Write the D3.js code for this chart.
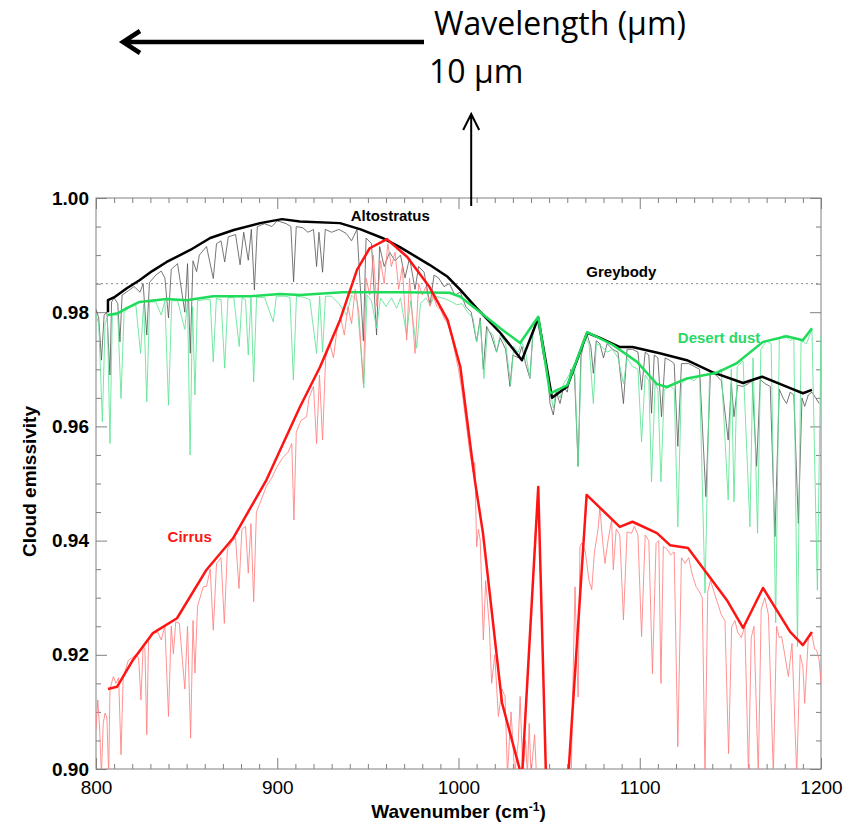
<!DOCTYPE html>
<html>
<head>
<meta charset="utf-8">
<script src="https://cdn.jsdelivr.net/npm/d3@7"></script>
<style>
  body { margin: 0; background: #fff; }
  svg { display: block; }
</style>
</head>
<body>
<div id="chart"></div>
<script>
// axis ticks
var xMajorTicks = [800, 900, 1000, 1100, 1200];
var yMajorTicks = [0.90, 0.92, 0.94, 0.96, 0.98, 1.00];
var greybodyValue = 0.985;
var arrowWavenumber = 1007;

// smoothed envelopes (thick lines)
var altostratus = [[806.6,0.9800],[806.6,0.9821],[810.5,0.9827],[817,0.9842],[824,0.9856],[831,0.9872],[839,0.9888],[852,0.9909],[863,0.9930],[876,0.9944],[890.5,0.9956],[902.6,0.9963],[912.5,0.9959],[934.6,0.9956],[946,0.9945],[958,0.9930],[967.7,0.9914],[984,0.9883],[994,0.9862],[1001,0.9839],[1010,0.9807],[1023,0.9764],[1035,0.9716],[1044,0.9790],[1051.6,0.9650],[1060,0.9670],[1071,0.9764],[1078,0.9755],[1089,0.9739],[1096,0.9739],[1111,0.9728],[1126,0.9716],[1140,0.9695],[1157,0.9676],[1167.5,0.9687],[1183,0.9667],[1190,0.9658],[1195,0.9664]];
var desertDust = [[806.6,0.9795],[812,0.9798],[817,0.9807],[824,0.9818],[839,0.9823],[850,0.9821],[864.6,0.9828],[885,0.9828],[901.5,0.9832],[912.5,0.9830],[936,0.9835],[967.7,0.9835],[995,0.9834],[1001,0.9827],[1012,0.9800],[1023,0.9772],[1034,0.9746],[1044,0.9792],[1050.5,0.9658],[1060,0.9672],[1071,0.9765],[1085,0.9743],[1098.5,0.9713],[1105,0.9690],[1109.5,0.9674],[1115,0.9669],[1126,0.9684],[1142.6,0.9694],[1153.6,0.9711],[1168,0.9748],[1181,0.9758],[1190,0.9751],[1195,0.9772]];
var cirrus = [[806.6,0.9140],[811.6,0.9144],[820.4,0.9191],[831.4,0.9238],[844.7,0.9264],[861,0.9349],[875.6,0.9404],[894,0.9506],[912.5,0.9634],[923.6,0.9704],[934.6,0.9786],[944,0.9874],[951,0.9912],[960.5,0.9928],[971.6,0.9897],[984,0.9844],[994,0.9786],[1001,0.9704],[1009,0.9506],[1013.5,0.9413],[1024,0.9116],[1035,0.8985],[1044,0.9494],[1048.5,0.8960],[1060,0.8960],[1070.7,0.9480],[1089,0.9424],[1096,0.9433],[1109.5,0.9413],[1116.7,0.9392],[1126.6,0.9387],[1137,0.9343],[1148,0.9296],[1157,0.9247],[1168,0.9317],[1183,0.9240],[1190,0.9217],[1195,0.9240]];

// high resolution spectra (thin lines)
var altostratusHiRes = [[800,0.9805],[801.5,0.9790],[803,0.9716],[804.5,0.9795],[806,0.9800],[807.7,0.9690],[808.6,0.9818],[810,0.9825],[812,0.9815],[813.2,0.9748],[814.4,0.9830],[818,0.9838],[821,0.9845],[824.3,0.9835],[826,0.9850],[828,0.9760],[829.5,0.9852],[833,0.9865],[836,0.9872],[838,0.9860],[840,0.9790],[841.5,0.9875],[845,0.9885],[849,0.9800],[850.5,0.9885],[852,0.9728],[853.5,0.9890],[855.5,0.9871],[857,0.9900],[861,0.9915],[864.7,0.9859],[866.5,0.9920],[869,0.9925],[871,0.9888],[873,0.9932],[877,0.9936],[879.5,0.9883],[881.5,0.9940],[884,0.9891],[885.7,0.9945],[887.4,0.9839],[889,0.9950],[893,0.9955],[897,0.9950],[900,0.9960],[905,0.9955],[907.5,0.9950],[909,0.9853],[910.5,0.9950],[914,0.9948],[917,0.9940],[920,0.9945],[921.7,0.9880],[923,0.9940],[925,0.9870],[926.5,0.9945],[930,0.9940],[934,0.9945],[938,0.9938],[941,0.9925],[944,0.9945],[947.5,0.9750],[949,0.9930],[952,0.9920],[954.8,0.9760],[956.5,0.9915],[959,0.9880],[962,0.9905],[965,0.9890],[968,0.9900],[970.5,0.9860],[973,0.9895],[976,0.9840],[978,0.9880],[981,0.9870],[984.3,0.9813],[986.5,0.9865],[989,0.9860],[992,0.9845],[995,0.9850],[998,0.9830],[1001,0.9835],[1004,0.9810],[1007,0.9800],[1010,0.9748],[1012,0.9790],[1013.7,0.9700],[1015.5,0.9775],[1018,0.9760],[1021,0.9730],[1023,0.9755],[1026,0.9735],[1028.4,0.9670],[1030,0.9725],[1033,0.9720],[1035,0.9740],[1037,0.9710],[1039.4,0.9684],[1041,0.9760],[1043.5,0.9785],[1045,0.9760],[1047,0.9720],[1049,0.9700],[1050.5,0.9640],[1052.3,0.9620],[1054,0.9660],[1056,0.9640],[1058,0.9670],[1060,0.9660],[1062,0.9700],[1064,0.9690],[1066,0.9530],[1067.5,0.9720],[1069,0.9745],[1071,0.9760],[1073,0.9740],[1074.4,0.9693],[1076,0.9750],[1078,0.9745],[1080,0.9720],[1082,0.9745],[1085,0.9735],[1088,0.9730],[1091,0.9640],[1093,0.9735],[1096,0.9735],[1099,0.9730],[1101,0.9664],[1103,0.9730],[1105,0.9725],[1106.5,0.9623],[1108,0.9725],[1110,0.9720],[1112,0.9617],[1114,0.9720],[1117,0.9715],[1119,0.9710],[1121,0.9565],[1123,0.9710],[1127,0.9710],[1130,0.9705],[1133,0.9700],[1136.5,0.9477],[1139,0.9695],[1142,0.9690],[1145,0.9680],[1148.8,0.9576],[1150.5,0.9675],[1152,0.9617],[1154,0.9672],[1157,0.9670],[1160,0.9675],[1162,0.9680],[1164.5,0.9530],[1166.5,0.9682],[1169,0.9675],[1172,0.9670],[1174.6,0.9407],[1177,0.9665],[1179,0.9650],[1181,0.9640],[1183,0.9660],[1185,0.9655],[1187.5,0.9430],[1189.5,0.9650],[1191,0.9635],[1193,0.9655],[1195,0.9660],[1197,0.9650],[1199,0.9640]];
var desertDustHiRes = [[800,0.9795],[801.5,0.9780],[803.5,0.9608],[805,0.9780],[806.3,0.9790],[807.7,0.9570],[809,0.9795],[812,0.9795],[813.8,0.9649],[815.5,0.9800],[819,0.9810],[822,0.9812],[824.6,0.9728],[826.3,0.9815],[828,0.9643],[829.6,0.9818],[833,0.9818],[836,0.9795],[838,0.9820],[840,0.9637],[841.8,0.9820],[845,0.9820],[849,0.9770],[850.5,0.9820],[851.9,0.9550],[853.3,0.9810],[854.6,0.9655],[856,0.9820],[860,0.9822],[863,0.9822],[864.7,0.9713],[866.4,0.9824],[869,0.9822],[871,0.9702],[872.8,0.9825],[876,0.9826],[879,0.9740],[880.6,0.9825],[882.5,0.9822],[884,0.9725],[885.5,0.9826],[887,0.9678],[888.6,0.9826],[893,0.9826],[897.8,0.9783],[899.5,0.9828],[904,0.9828],[907,0.9826],[908.9,0.9681],[910.6,0.9828],[915,0.9826],[918,0.9822],[921.7,0.9728],[923.4,0.9828],[925,0.9730],[926.6,0.9828],[930,0.9828],[934,0.9815],[938.3,0.9795],[941,0.9830],[944,0.9820],[947.8,0.9667],[949.5,0.9830],[952,0.9820],[954.8,0.9772],[957,0.9825],[960,0.9810],[963,0.9825],[965.9,0.9807],[968,0.9825],[971.4,0.9760],[973.5,0.9820],[976.9,0.9737],[979,0.9815],[982,0.9825],[984.3,0.9813],[987,0.9828],[991,0.9825],[995,0.9820],[999,0.9813],[1002,0.9815],[1005,0.9800],[1008,0.9790],[1010,0.9748],[1012,0.9785],[1014,0.9684],[1016,0.9770],[1019,0.9760],[1021,0.9731],[1023,0.9760],[1026,0.9745],[1028.8,0.9673],[1030.5,0.9740],[1033,0.9730],[1034.8,0.9748],[1037,0.9730],[1039.4,0.9684],[1041,0.9765],[1043.5,0.9790],[1045,0.9770],[1047,0.9730],[1049,0.9690],[1051,0.9655],[1052.3,0.9632],[1054,0.9665],[1056,0.9650],[1058,0.9675],[1061,0.9690],[1064,0.9710],[1066,0.9530],[1067.8,0.9730],[1070,0.9755],[1072,0.9745],[1074.4,0.9640],[1076,0.9745],[1079,0.9740],[1082,0.9730],[1085,0.9735],[1088,0.9720],[1091,0.9675],[1093,0.9720],[1096,0.9705],[1099,0.9700],[1101,0.9573],[1103,0.9690],[1105,0.9680],[1106.5,0.9503],[1108.5,0.9675],[1110,0.9665],[1111.7,0.9503],[1113.5,0.9665],[1117,0.9670],[1119,0.9665],[1121,0.9424],[1123,0.9675],[1127,0.9685],[1130,0.9680],[1133,0.9690],[1136,0.9308],[1138.5,0.9690],[1142,0.9695],[1145,0.9700],[1148.8,0.9471],[1150.5,0.9700],[1152,0.9468],[1153.8,0.9705],[1157,0.9715],[1160.8,0.9424],[1162.5,0.9720],[1165,0.9413],[1166.8,0.9735],[1170,0.9750],[1172.5,0.9745],[1175,0.9256],[1177,0.9755],[1180,0.9760],[1183,0.9750],[1185,0.9755],[1187,0.9214],[1189,0.9750],[1192,0.9745],[1195,0.9770],[1198,0.9313],[1200,0.9760]];
var cirrusHiRes = [[800,0.9068],[801,0.9121],[802,0.9070],[803,0.8990],[804,0.9080],[805,0.9098],[806,0.9090],[807,0.8990],[807.7,0.9140],[809.6,0.9162],[811,0.9150],[812.5,0.9160],[813.8,0.9025],[815,0.9160],[817.8,0.9190],[820,0.9195],[822,0.9200],[823.5,0.9195],[824.8,0.9121],[826,0.9215],[827,0.9210],[828,0.9060],[829,0.9225],[831.6,0.9238],[834,0.9240],[836,0.9226],[838,0.9250],[840,0.9092],[841.5,0.9250],[842.7,0.9202],[844,0.9258],[846,0.9255],[849,0.9140],[850.5,0.9250],[852.2,0.9054],[853.5,0.9260],[854.6,0.9168],[856,0.9285],[859.2,0.9319],[861,0.9320],[863,0.9350],[864.7,0.9243],[866.5,0.9360],[869,0.9370],[870.8,0.9255],[872.5,0.9385],[875,0.9398],[877,0.9405],[878.9,0.9316],[880.5,0.9420],[882.5,0.9425],[884,0.9343],[885.5,0.9430],[887,0.9293],[888.5,0.9450],[891,0.9470],[894,0.9495],[897,0.9510],[900,0.9530],[903,0.9545],[906,0.9555],[908,0.9570],[909.2,0.9436],[910.5,0.9590],[913,0.9610],[916.2,0.9617],[917.5,0.9650],[920,0.9670],[921.7,0.9570],[923.3,0.9690],[925,0.9576],[926.7,0.9720],[929,0.9745],[931,0.9720],[933,0.9770],[935,0.9790],[937,0.9760],[939,0.9810],[941,0.9780],[943,0.9840],[945,0.9800],[947.5,0.9675],[949,0.9860],[951,0.9830],[953,0.9900],[955,0.9810],[957,0.9890],[959,0.9850],[961,0.9920],[963,0.9880],[965,0.9905],[967,0.9840],[969,0.9880],[971.4,0.9751],[973,0.9860],[976,0.9728],[978,0.9850],[980,0.9830],[982,0.9845],[984.3,0.9810],[986,0.9830],[988,0.9810],[990,0.9805],[992,0.9790],[994,0.9780],[996,0.9760],[998,0.9730],[1000,0.9700],[1002,0.9660],[1004,0.9610],[1006,0.9560],[1008,0.9520],[1009,0.9537],[1010,0.9389],[1011,0.9420],[1012,0.9400],[1013.7,0.9226],[1015,0.9330],[1017,0.9250],[1018.3,0.9150],[1020,0.9200],[1022,0.9092],[1024,0.9140],[1025.7,0.9127],[1027,0.8990],[1029,0.9100],[1031,0.8990],[1033,0.9050],[1034,0.9127],[1035.5,0.8990],[1037,0.9050],[1038,0.8990],[1039,0.9080],[1040,0.8990],[1042,0.9060],[1043,0.8990],[1045,0.8950],[1062,0.8950],[1063,0.9130],[1064.3,0.9319],[1065.2,0.9200],[1066,0.9126],[1067,0.9389],[1068,0.9396],[1070,0.9380],[1072,0.9330],[1073.5,0.9314],[1075,0.9380],[1077,0.9420],[1078,0.9459],[1079.5,0.9400],[1080.8,0.9360],[1082.5,0.9400],[1084.5,0.9436],[1085.4,0.9349],[1087,0.9420],[1089,0.9410],[1091,0.9261],[1093,0.9415],[1095.5,0.9413],[1097,0.9425],[1099,0.9410],[1101,0.9232],[1103,0.9410],[1105,0.9400],[1107,0.9167],[1109,0.9395],[1110.5,0.9400],[1111.7,0.9150],[1113,0.9390],[1115,0.9385],[1117,0.9375],[1119,0.9380],[1121,0.9039],[1123,0.9370],[1125,0.9360],[1127,0.9370],[1129,0.9340],[1131,0.9320],[1133,0.9310],[1134.5,0.9300],[1136,0.8990],[1137.5,0.9310],[1139,0.9330],[1141,0.9310],[1143,0.9290],[1145,0.9270],[1147,0.9260],[1149,0.9027],[1150.7,0.9249],[1152.5,0.9260],[1154,0.9240],[1156,0.9230],[1158,0.9250],[1160,0.8990],[1161.5,0.9230],[1163,0.9250],[1165.4,0.8990],[1167,0.9280],[1169,0.9300],[1171,0.9270],[1173.7,0.8990],[1175.5,0.9250],[1177,0.9230],[1178.3,0.9232],[1180,0.9200],[1182,0.9162],[1184,0.9220],[1186.6,0.8990],[1188.5,0.9200],[1190,0.9180],[1191,0.9115],[1193,0.9230],[1195,0.9235],[1196.5,0.9210],[1197.6,0.9208],[1199,0.9190],[1200,0.9150]];

var width = 847, height = 824;
var margin = { top: 198, right: 26, bottom: 55, left: 96 };
var plotW = width - margin.left - margin.right;
var plotH = height - margin.top - margin.bottom;

var svg = d3.select("#chart").append("svg")
    .attr("width", width)
    .attr("height", height);

var x = d3.scaleLinear().domain([800, 1200]).range([0, plotW]);
var y = d3.scaleLinear().domain([0.90, 1.00]).range([plotH, 0]);

var xMinor = d3.range(800, 1201, 10).filter(function (d) { return d % 100 !== 0; });
var yMinor = d3.range(0, 21).map(function (i) { return +(0.90 + i * 0.005).toFixed(3); })
    .filter(function (d) { return yMajorTicks.indexOf(d) < 0; });

svg.append("defs").append("clipPath").attr("id", "plotclip")
    .append("rect").attr("width", plotW).attr("height", plotH);

var g = svg.append("g").attr("transform", "translate(" + margin.left + "," + margin.top + ")");

// ticks on all four sides, pointing inward
function styleAxis(sel) {
    sel.select(".domain").remove();
    sel.selectAll(".tick line").attr("stroke", "#808080");
}
g.append("g").attr("transform", "translate(0," + plotH + ")")
    .call(d3.axisBottom(x).tickValues(xMinor).tickSize(-5).tickFormat("")).call(styleAxis);
g.append("g").call(d3.axisTop(x).tickValues(xMinor).tickSize(-5).tickFormat("")).call(styleAxis);
g.append("g").call(d3.axisTop(x).tickValues(xMajorTicks).tickSize(-11).tickFormat("")).call(styleAxis);
g.append("g").call(d3.axisLeft(y).tickValues(yMinor).tickSize(-5).tickFormat("")).call(styleAxis);
g.append("g").attr("transform", "translate(" + plotW + ",0)")
    .call(d3.axisRight(y).tickValues(yMinor).tickSize(-5).tickFormat("")).call(styleAxis);
g.append("g").attr("transform", "translate(" + plotW + ",0)")
    .call(d3.axisRight(y).tickValues(yMajorTicks).tickSize(-11).tickFormat("")).call(styleAxis);

var xAxis = g.append("g").attr("transform", "translate(0," + plotH + ")")
    .call(d3.axisBottom(x).tickValues(xMajorTicks).tickSize(-11).tickPadding(12).tickFormat(d3.format("d")))
    .call(styleAxis);
xAxis.selectAll("text").attr("fill", "#000")
    .style("font-family", "'Liberation Sans', Arial, sans-serif").style("font-size", "19px");

var yAxis = g.append("g")
    .call(d3.axisLeft(y).tickValues(yMajorTicks).tickSize(-11).tickPadding(7).tickFormat(d3.format(".2f")))
    .call(styleAxis);
yAxis.selectAll("text").attr("fill", "#000")
    .style("font-family", "'Liberation Sans', Arial, sans-serif").style("font-size", "19px").style("font-weight", "bold");

g.append("rect").attr("width", plotW).attr("height", plotH)
    .attr("fill", "none").attr("stroke", "#808080").attr("stroke-width", 1);

// greybody reference
g.append("line")
    .attr("x1", 0).attr("x2", plotW)
    .attr("y1", y(greybodyValue)).attr("y2", y(greybodyValue))
    .attr("stroke", "#8a8a8a").attr("stroke-width", 1).attr("stroke-dasharray", "2,3");

var line = d3.line().x(function (d) { return x(d[0]); }).y(function (d) { return y(d[1]); });
var plot = g.append("g").attr("clip-path", "url(#plotclip)");

plot.append("path").attr("d", line(altostratusHiRes))
    .attr("fill", "none").attr("stroke", "#555").attr("stroke-opacity", 0.8).attr("stroke-width", 1);
plot.append("path").attr("d", line(desertDustHiRes))
    .attr("fill", "none").attr("stroke", "#5ee494").attr("stroke-opacity", 0.85).attr("stroke-width", 1);
plot.append("path").attr("d", line(cirrusHiRes))
    .attr("fill", "none").attr("stroke", "#ff8080").attr("stroke-opacity", 0.85).attr("stroke-width", 1);

plot.append("path").attr("d", line(altostratus))
    .attr("fill", "none").attr("stroke", "#000").attr("stroke-width", 2.5).attr("stroke-linejoin", "round");
plot.append("path").attr("d", line(desertDust))
    .attr("fill", "none").attr("stroke", "#1edc5a").attr("stroke-width", 2.5).attr("stroke-linejoin", "round");
plot.append("path").attr("d", line(cirrus))
    .attr("fill", "none").attr("stroke", "#ff1414").attr("stroke-width", 2.5).attr("stroke-linejoin", "round");

// series labels
var labelFont = "'Liberation Sans', Arial, sans-serif";
function seriesLabel(text, wn, v, color) {
    g.append("text").attr("x", x(wn)).attr("y", y(v)).text(text)
        .attr("fill", color).style("font-family", labelFont)
        .style("font-size", "15px").style("font-weight", "bold");
}
seriesLabel("Altostratus", 940.5, 0.99603, "#000");
seriesLabel("Greybody", 1070.5, 0.98615, "#000");
seriesLabel("Desert dust", 1121, 0.9746, "#2bd865");
seriesLabel("Cirrus", 839.5, 0.9398, "#ff1414");

// axis titles
svg.append("text")
    .attr("x", margin.left + x(1000)).attr("y", 818)
    .attr("text-anchor", "middle")
    .style("font-family", labelFont).style("font-size", "19px").style("font-weight", "bold")
    .text("Wavenumber (cm")
    .append("tspan").attr("baseline-shift", "super").style("font-size", "12px").text("-1")
    .select(function () { return this.parentNode; })
    .append("tspan").text(")");
svg.append("text")
    .attr("transform", "translate(36," + (margin.top + plotH / 2 - 2) + ") rotate(-90)")
    .attr("text-anchor", "middle")
    .style("font-family", labelFont).style("font-size", "19px").style("font-weight", "bold")
    .text("Cloud emissivity");

// wavelength annotation above the plot
var ax = margin.left + x(arrowWavenumber);
svg.append("text").attr("x", 434).attr("y", 35).text("Wavelength (\u00b5m)")
    .style("font-family", "'Open Sans', sans-serif").style("font-size", "32px");
svg.append("text").attr("x", 429).attr("y", 83).text("10 \u00b5m")
    .style("font-family", "'Open Sans', sans-serif").style("font-size", "32px");

svg.append("path")
    .attr("d", "M424,42 L123,42 M140,31 L123,42 L140,53")
    .attr("fill", "none").attr("stroke", "#000").attr("stroke-width", 4.5)
    .attr("stroke-linecap", "butt").attr("stroke-linejoin", "miter");
svg.append("path")
    .attr("d", "M" + ax + ",206 L" + ax + ",114 M" + (ax - 8) + ",130 L" + ax + ",114 L" + (ax + 8) + ",130")
    .attr("fill", "none").attr("stroke", "#000").attr("stroke-width", 2);
</script>
</body>
</html>
